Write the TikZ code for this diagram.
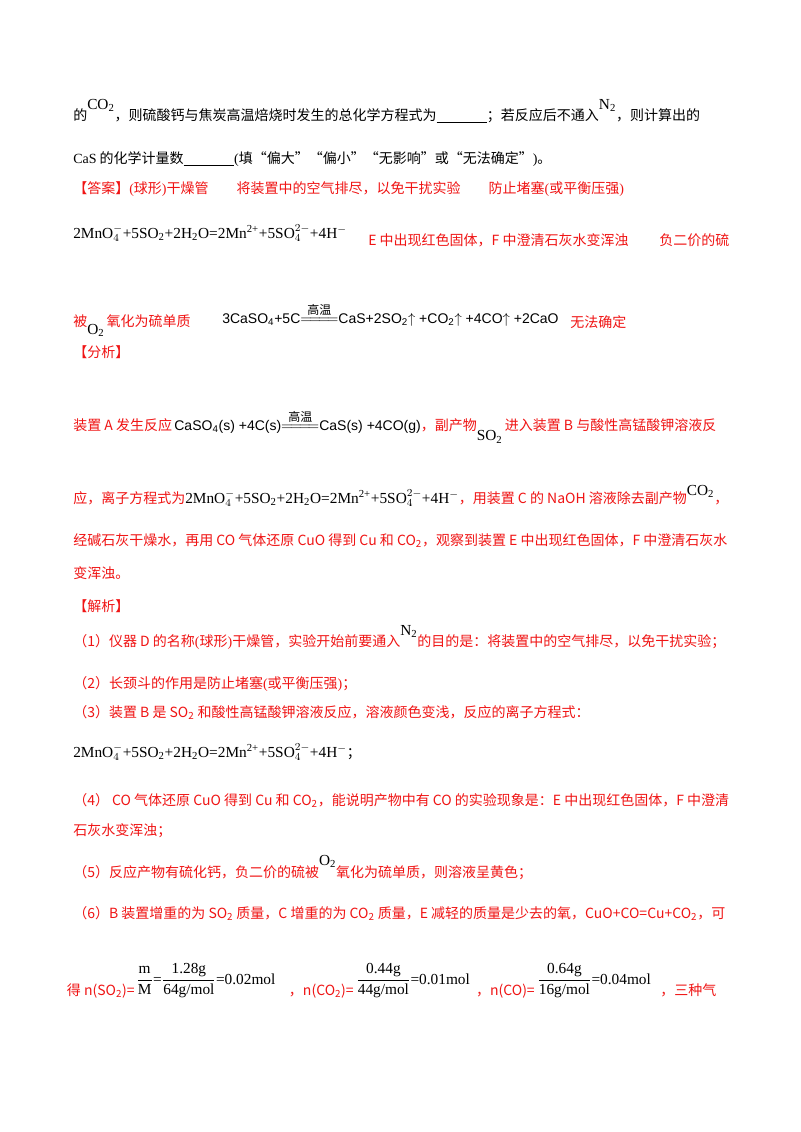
\documentclass[tikz,border=0pt]{standalone}
\usepackage{fontspec}
\setmainfont{Noto Sans CJK SC}
\newfontfamily\lat{Liberation Serif}
\newfontfamily\las{Liberation Sans}
\definecolor{ans}{RGB}{240,20,20}
\newcommand\gw{$\stackrel{\mbox{\rmfamily\fontsize{9}{9}\selectfont 高温}}{=\!=\!=\!=}$}
\newcommand\mneq{{\lat\fontsize{11.5}{12}\selectfont 2MnO$^{-}_{4}$+5SO\textsubscript{2}+2H\textsubscript{2}O=2Mn\textsuperscript{2+}+5SO$^{2-}_{4}$+4H\textsuperscript{$-$}}}
\newcommand\fr[2]{$\displaystyle\frac{\mbox{\lat #1}}{\mbox{\lat #2}}$}
\begin{document}
\begin{tikzpicture}[x=0.75pt,y=-0.75pt,
  t/.style={anchor=base west,inner sep=0pt,font=\fontsize{10.5}{12}\selectfont},
  r/.style={t,text=ans},
  re/.style={r,anchor=base east}]
\useasboundingbox (0,0) rectangle (800,1132);
\fill[white] (0,0) rectangle (800,1132);
\node[t] (a1) at (73,120) {的\raisebox{8pt}{\lat\fontsize{11.5}{12}\selectfont CO\textsubscript{2}}，则硫酸钙与焦炭高温焙烧时发生的总化学方程式为\underline{\hspace{3.6em}}；若反应后不通入\raisebox{8pt}{\lat\fontsize{11.5}{12}\selectfont N\textsubscript{2}}，则计算出的};
\node[t] (a2) at (73,163) {{\lat CaS} 的化学计量数\underline{\hspace{3.6em}}{\lat (}填“偏大”“偏小”“无影响”或“无法确定”{\lat )}。};
\node[r] (a3) at (73,193) {【答案】{\lat (}球形{\lat )}干燥管\hspace{2em}将装置中的空气排尽，以免干扰实验\hspace{2em}防止堵塞{\lat (}或平衡压强{\lat )}};
\node[t] (a4) at (73,238) {\mneq};
\node[r] (a5) at (368,245) {E 中出现红色固体，F 中澄清石灰水变浑浊\hspace{2.2em}负二价的硫};
\node[r] (a6) at (73,326) {被\raisebox{-6pt}{\color{black}\lat\fontsize{11.5}{12}\selectfont O\textsubscript{2}}\,氧化为硫单质};
\node[t] (a7) at (222,323) {\las 3CaSO\textsubscript{4}+5C\gw CaS+2SO\textsubscript{2}$\uparrow$ +CO\textsubscript{2}$\uparrow$ +4CO$\uparrow$ +2CaO};
\node[r] (a8) at (570,327) {无法确定};
\node[r] (b0) at (73,357) {【分析】};
\node[r] (b1) at (73,430) {装置 A 发生反应\,{\color{black}\las CaSO\textsubscript{4}(s) +4C(s)\gw CaS(s) +4CO(g)}，副产物\raisebox{-8pt}{\color{black}\lat\fontsize{11.5}{12}\selectfont SO\textsubscript{2}}\,进入装置 B 与酸性高锰酸钾溶液反};
\node[r] (b2) at (73,503) {应，离子方程式为{\color{black}\mneq}，用装置 C 的 NaOH 溶液除去副产物\raisebox{6pt}{\color{black}\lat\fontsize{11.5}{12}\selectfont CO\textsubscript{2}}，};
\node[r] (b3) at (73,545) {经碱石灰干燥水，再用 CO 气体还原 CuO 得到 Cu 和 CO\textsubscript{2}，观察到装置 E 中出现红色固体，F 中澄清石灰水};
\node[r] (b4) at (73,578) {变浑浊。};
\node[r] (c0) at (73,611) {【解析】};
\node[r] (c1) at (73,646) {（1）仪器 D 的名称{\lat (}球形{\lat )}干燥管，实验开始前要通入\raisebox{8pt}{\color{black}\lat\fontsize{11.5}{12}\selectfont N\textsubscript{2}}的目的是：将装置中的空气排尽，以免干扰实验；};
\node[r] (c2) at (73,688) {（2）长颈斗的作用是防止堵塞{\lat (}或平衡压强{\lat )}；};
\node[r] (c3) at (73,717) {（3）装置 B 是 SO\textsubscript{2} 和酸性高锰酸钾溶液反应，溶液颜色变浅，反应的离子方程式：};
\node[t] (c4) at (73,757) {\mneq；};
\node[r] (c5) at (73,805) {（4） CO 气体还原 CuO 得到 Cu 和 CO\textsubscript{2}，能说明产物中有 CO 的实验现象是：E 中出现红色固体，F 中澄清};
\node[r] (c6) at (73,835) {石灰水变浑浊；};
\node[r] (c7) at (73,877) {（5）反应产物有硫化钙，负二价的硫被\raisebox{9pt}{\color{black}\lat\fontsize{11.5}{12}\selectfont O\textsubscript{2}}氧化为硫单质，则溶液呈黄色；};
\node[r] (c8) at (73,918) {（6）B 装置增重的为 SO\textsubscript{2} 质量，C 增重的为 CO\textsubscript{2} 质量，E 减轻的质量是少去的氧，CuO+CO=Cu+CO\textsubscript{2}，可};
\node[re] (d1) at (135,995) {得 n(SO\textsubscript{2})=};
\node[t,font=\lat\fontsize{11.5}{12}\selectfont] (d2) at (136,984) {\fr{m}{M}=\fr{1.28g}{64g/mol}=0.02mol};
\node[re] (d3) at (354,995) {，n(CO\textsubscript{2})=};
\node[t,font=\lat\fontsize{11.5}{12}\selectfont] (d4) at (356,984) {\fr{0.44g}{44g/mol}=0.01mol};
\node[re] (d5) at (535,995) {，n(CO)=};
\node[t,font=\lat\fontsize{11.5}{12}\selectfont] (d6) at (537,984) {\fr{0.64g}{16g/mol}=0.04mol};
\node[r] (d7) at (660,995) {，三种气};
\end{tikzpicture}
\end{document}
